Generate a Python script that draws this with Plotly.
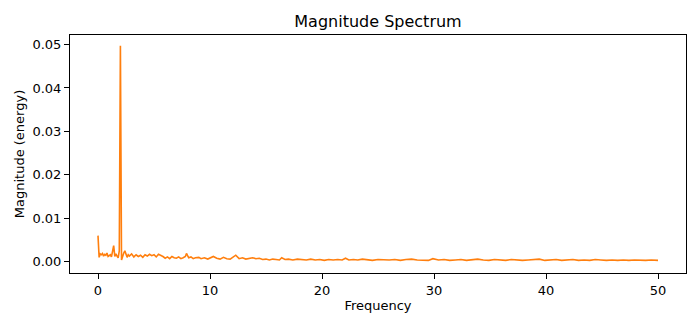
import plotly.graph_objects as go

# Magnitude spectrum of the sampled signal (Fs = 100 Hz), one-sided
freq = [
    0.0, 0.1, 0.2, 0.3, 0.4, 0.5, 0.6, 0.7, 0.8, 0.9,
    1.0, 1.1, 1.2, 1.3, 1.4, 1.5, 1.6, 1.7, 1.8, 1.9,
    2.0, 2.1, 2.2, 2.3, 2.4, 2.5, 2.6, 2.7, 2.8, 3.0,
    3.2, 3.4, 3.6, 3.8, 4.0, 4.2, 4.4, 4.6, 4.8, 5.0,
    5.2, 5.4, 5.6, 5.8, 6.0, 6.2, 6.4, 6.6, 6.8, 7.0,
    7.2, 7.4, 7.6, 7.8, 7.9, 8.1, 8.3, 8.5, 8.7, 9.0,
    9.2, 9.5, 9.8, 10.0, 10.3, 10.6, 10.9, 11.2, 11.5, 11.8,
    12.0, 12.3, 12.6, 12.9, 13.2, 13.5, 13.8, 14.1, 14.4, 14.7,
    15.0, 15.3, 15.6, 15.9, 16.2, 16.4, 16.7, 17.0, 17.4, 17.8,
    18.2, 18.6, 19.0, 19.4, 19.8, 20.2, 20.6, 21.0, 21.4, 21.8,
    22.1, 22.4, 22.8, 23.2, 23.6, 24.0, 24.5, 25.0, 25.5, 26.0,
    26.5, 27.0, 27.5, 28.0, 28.5, 29.0, 29.5, 29.9, 30.4, 30.9,
    31.4, 31.9, 32.4, 32.9, 33.4, 33.9, 34.4, 34.9, 35.4, 35.9,
    36.4, 36.9, 37.4, 37.9, 38.4, 38.9, 39.4, 39.9, 40.4, 40.9,
    41.4, 41.9, 42.4, 42.9, 43.4, 43.9, 44.4, 44.9, 45.4, 45.9,
    46.4, 46.9, 47.4, 47.9, 48.4, 48.9, 49.4, 50.0,
]
magnitude = [
    0.0060, 0.0010, 0.0018, 0.0016, 0.0019, 0.0013, 0.0017, 0.0015, 0.0020, 0.0012,
    0.0014, 0.0016, 0.0011, 0.0030, 0.0037, 0.0012, 0.0018, 0.0013, 0.0009, 0.0025,
    0.0497, 0.0004, 0.0015, 0.0020, 0.0025, 0.0017, 0.0010, 0.0016, 0.0013, 0.0018,
    0.0011, 0.0016, 0.0012, 0.0015, 0.0010, 0.0016, 0.0013, 0.0017, 0.0014, 0.0016,
    0.0011, 0.0017, 0.0015, 0.0012, 0.0008, 0.0011, 0.0007, 0.0012, 0.0009, 0.0008,
    0.0011, 0.0007, 0.0009, 0.0012, 0.0019, 0.0009, 0.0011, 0.0007, 0.0009, 0.0010,
    0.0007, 0.0009, 0.0006, 0.0009, 0.0012, 0.0008, 0.0006, 0.0010, 0.0007, 0.0006,
    0.0009, 0.0015, 0.0007, 0.0009, 0.0006, 0.0008, 0.0009, 0.0007, 0.0008, 0.0005,
    0.0006, 0.0004, 0.0006, 0.0005, 0.0004, 0.0009, 0.0005, 0.0006, 0.0004, 0.0006,
    0.0005, 0.0004, 0.0006, 0.0004, 0.0005, 0.0003, 0.0005, 0.0004, 0.0005, 0.0004,
    0.0008, 0.0004, 0.0005, 0.0004, 0.0006, 0.0004, 0.0003, 0.0005, 0.0004, 0.0004,
    0.0005, 0.0003, 0.0005, 0.0006, 0.0004, 0.0004, 0.0003, 0.0007, 0.0004, 0.0005,
    0.0003, 0.0004, 0.0005, 0.0003, 0.0004, 0.0006, 0.0004, 0.0003, 0.0005, 0.0004,
    0.0003, 0.0005, 0.0004, 0.0003, 0.0004, 0.0005, 0.0006, 0.0003, 0.0004, 0.0005,
    0.0003, 0.0004, 0.0005, 0.0003, 0.0004, 0.0003, 0.0005, 0.0004, 0.0003, 0.0004,
    0.0003, 0.0004, 0.0003, 0.0004, 0.0003, 0.0003, 0.0004, 0.0003,
]

x_ticks = [0, 10, 20, 30, 40, 50]
y_ticks = [0.00, 0.01, 0.02, 0.03, 0.04, 0.05]

FONT = "DejaVu Sans"

fig = go.Figure(
    go.Scatter(
        x=freq,
        y=magnitude,
        mode="lines",
        line=dict(color="#ff7f0e", width=1.6),
        showlegend=False,
    )
)

axis_common = dict(
    showline=True,
    linecolor="black",
    linewidth=1,
    mirror=True,
    showgrid=False,
    zeroline=False,
    ticks="outside",
    ticklen=5,
    tickwidth=1,
    tickcolor="black",
    tickfont=dict(family=FONT, size=13, color="black"),
)

fig.update_xaxes(
    **axis_common,
    range=[-2.5, 52.5],
    tickvals=x_ticks,
    ticktext=[str(v) for v in x_ticks],
    title=dict(text="Frequency", font=dict(family=FONT, size=13, color="black"), standoff=4),
)
fig.update_yaxes(
    **axis_common,
    range=[-0.0026, 0.0522],
    tickvals=y_ticks,
    ticktext=[f"{v:.2f}" for v in y_ticks],
    title=dict(text="Magnitude (energy)", font=dict(family=FONT, size=13, color="black"), standoff=4),
)

fig.update_layout(
    width=700,
    height=327,
    margin=dict(l=70, r=14, t=35, b=54),
    paper_bgcolor="white",
    plot_bgcolor="white",
    title=dict(
        text="Magnitude Spectrum",
        font=dict(family=FONT, size=16, color="black"),
        x=0.5,
        xref="paper",
        xanchor="center",
        y=1 - 21 / 327,
        yanchor="middle",
    ),
)

fig.write_html("out.html")
